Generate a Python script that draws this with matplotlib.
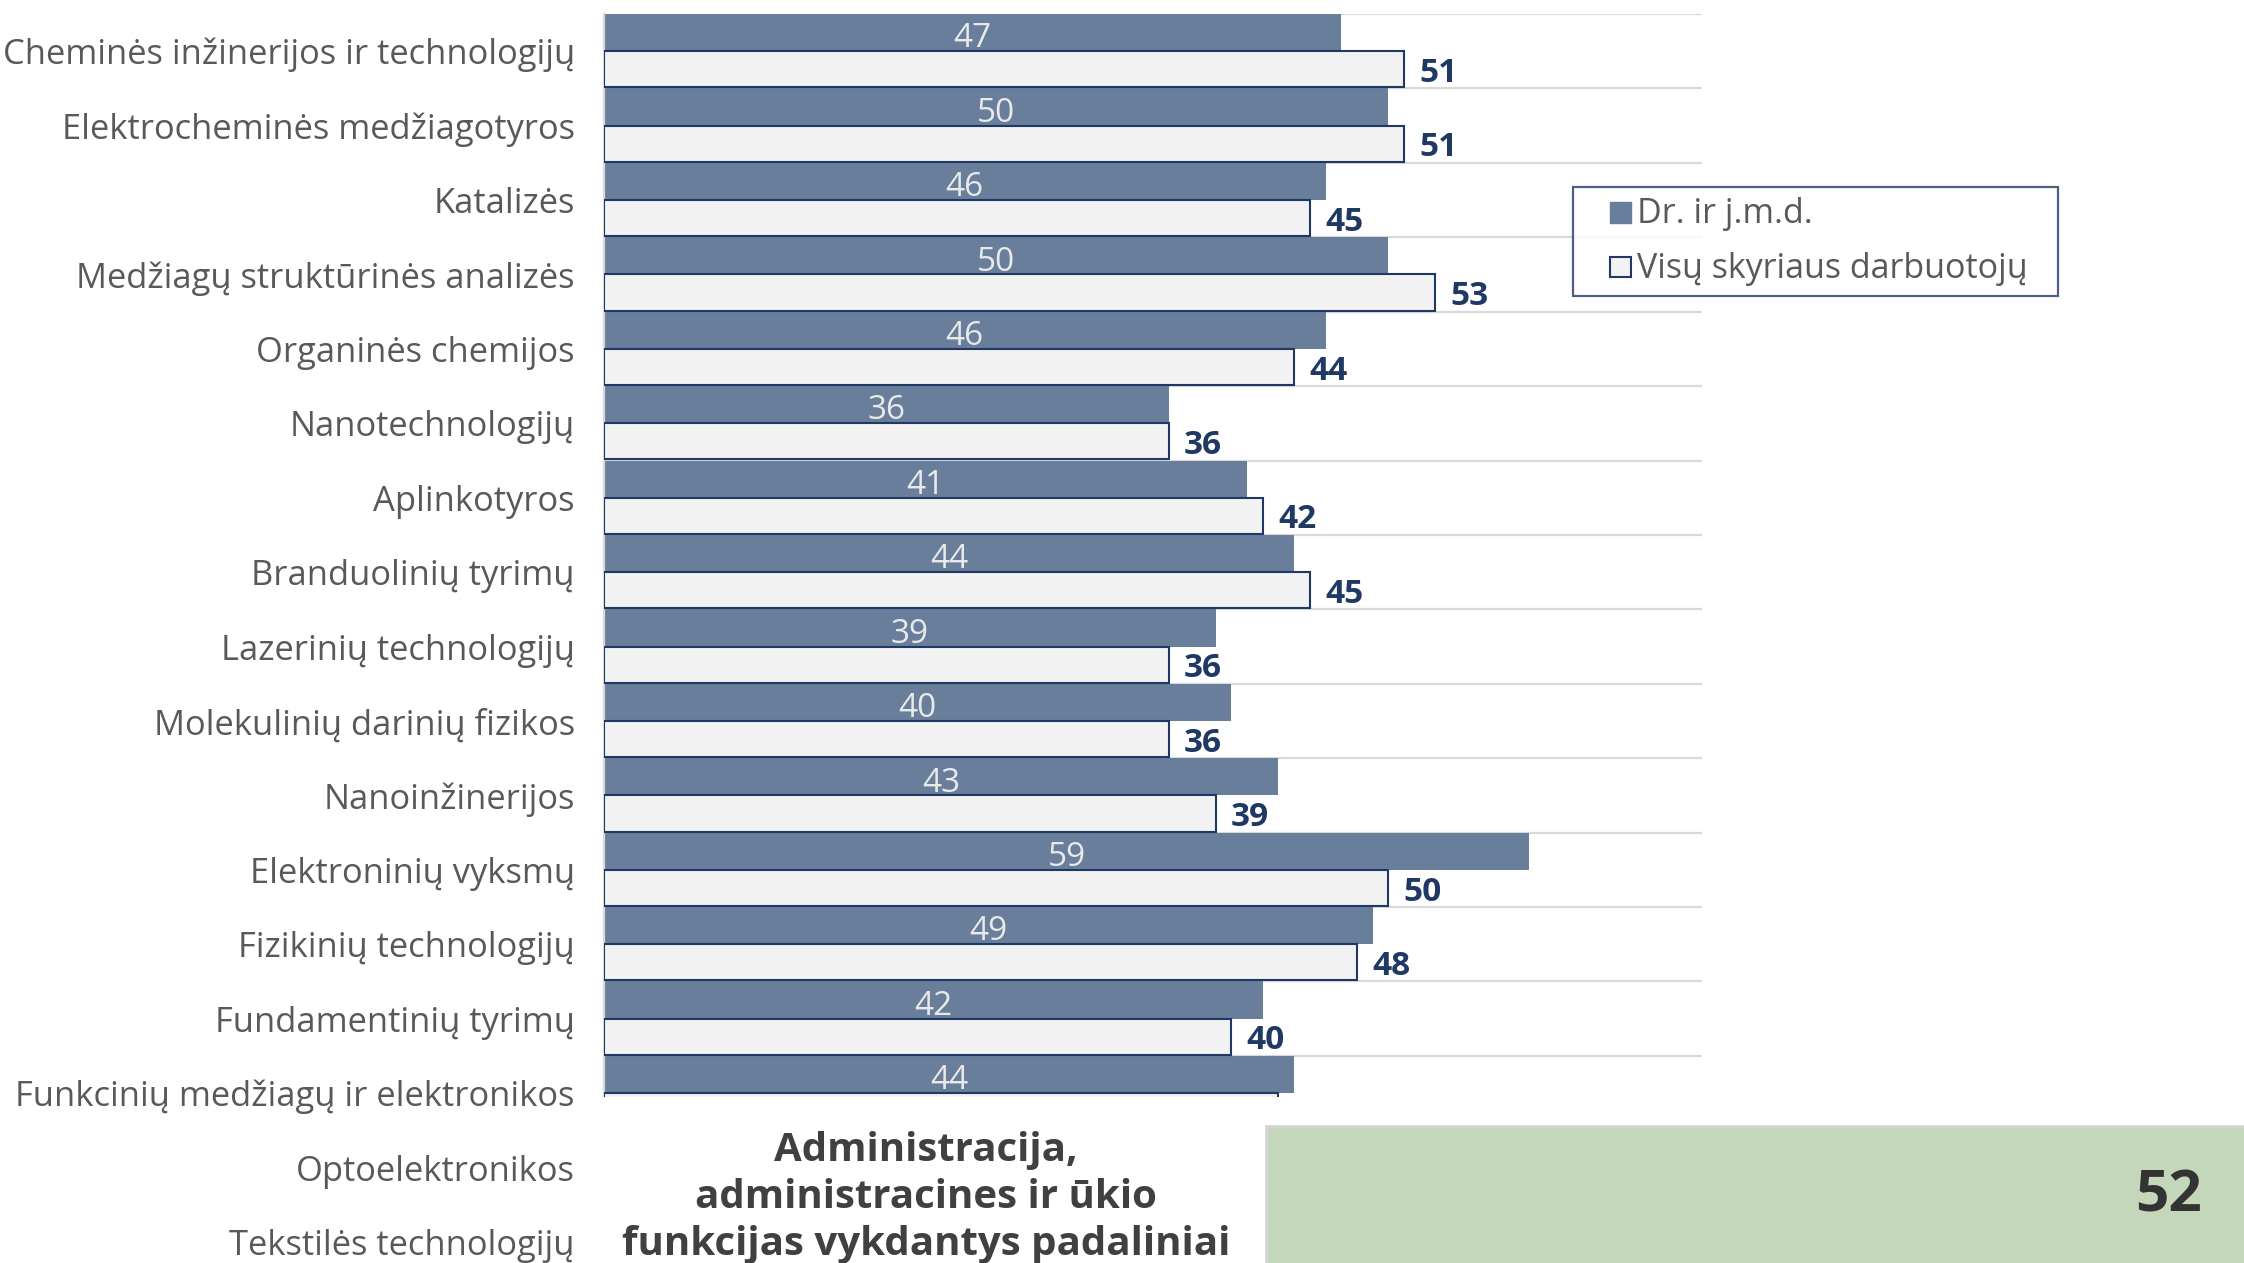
import numpy as np
import matplotlib
matplotlib.use("Agg")
import matplotlib.pyplot as plt
from matplotlib.patches import Patch, Rectangle
from matplotlib.legend_handler import HandlerPatch
from matplotlib import font_manager

# ---- data -------------------------------------------------------------
categories = [
    "Cheminės inžinerijos ir technologijų",
    "Elektrocheminės medžiagotyros",
    "Katalizės",
    "Medžiagų struktūrinės analizės",
    "Organinės chemijos",
    "Nanotechnologijų",
    "Aplinkotyros",
    "Branduolinių tyrimų",
    "Lazerinių technologijų",
    "Molekulinių darinių fizikos",
    "Nanoinžinerijos",
    "Elektroninių vyksmų",
    "Fizikinių technologijų",
    "Fundamentinių tyrimų",
    "Funkcinių medžiagų ir elektronikos",
    "Optoelektronikos",
    "Tekstilės technologijų",
]
dr_values = [47, 50, 46, 50, 46, 36, 41, 44, 39, 40, 43, 59, 49, 42, 44, np.nan, np.nan]
all_values = [51, 51, 45, 53, 44, 36, 42, 45, 36, 36, 39, 50, 48, 40, 43, np.nan, np.nan]
series_names = ["Dr. ir j.m.d.", "Visų skyriaus darbuotojų"]
admin_lines = ["Administracija,", "administracines ir ūkio", "funkcijas vykdantys padaliniai"]
admin_value = "52"

# ---- styling ------------------------------------------------------------
installed = {f.name for f in font_manager.fontManager.ttflist}
FONT = next((f for f in ["Open Sans", "Noto Sans", "Lato", "DejaVu Sans"] if f in installed), "DejaVu Sans")
plt.rcParams["font.family"] = [FONT, "DejaVu Sans"]

DARK = "#687e9b"
LIGHT = "#f2f2f2"
NAVY = "#1f3864"
GRID = "#d9d9d9"
LABEL = "#595959"

W, H = 2244, 1263
fig = plt.figure(figsize=(W / 100, H / 100), dpi=100)

def px_box(x0, y0, x1, y1):
    """Figure-fraction rectangle from pixel corners (origin top-left)."""
    return [x0 / W, 1 - y1 / H, (x1 - x0) / W, (y1 - y0) / H]

n = len(categories)
ax = fig.add_axes(px_box(604, 14, 1702, 14 + n * 74.42))
ax.set_xlim(0, 70)
ax.set_ylim(n - 0.5, -0.5)

idx = np.arange(n)
dr = np.array(dr_values, dtype=float)
al = np.array(all_values, dtype=float)

# separators between categories
ax.hlines(np.arange(n + 1) - 0.5, 0, 70, color=GRID, lw=1.6, zorder=0.5)

ax.barh(idx - 0.5, dr, height=0.5, align="edge", color=DARK, zorder=2)
ax.barh(idx, al, height=0.485, align="edge", color=LIGHT,
        edgecolor=NAVY, linewidth=1.5, zorder=3)

for i in idx:
    if not np.isnan(dr[i]):
        ax.text(dr[i] / 2, i - 0.22, f"{int(dr[i])}", ha="center", va="center_baseline",
                fontsize=24, color="#e9e9e9", zorder=4)
    if not np.isnan(al[i]):
        ax.annotate(f"{int(al[i])}", xy=(al[i], i + 0.245), xytext=(11, 0),
                    textcoords="offset points", ha="left", va="center_baseline",
                    fontsize=24, fontweight="bold", color=NAVY, zorder=4)

ax.set_yticks(idx)
ax.set_yticklabels(categories, fontsize=24.8, color=LABEL)
ax.tick_params(axis="y", length=0, pad=21)
ax.tick_params(axis="x", bottom=False, labelbottom=False)
for side in ["top", "right", "bottom"]:
    ax.spines[side].set_visible(False)
ax.spines["left"].set_color(GRID)
ax.spines["left"].set_linewidth(1.6)


class SquareHandler(HandlerPatch):
    """Legend key drawn as a small square at the right end of the key box."""
    def create_artists(self, legend, orig_handle, xdescent, ydescent,
                       width, height, fontsize, trans):
        side = 0.6 * fontsize
        p = Rectangle((width - xdescent - side, -ydescent + (height - side) / 2 - 1),
                      side, side)
        self.update_prop(p, orig_handle, legend)
        p.set_transform(trans)
        return [p]


handles = [Patch(facecolor=DARK, edgecolor=DARK),
           Patch(facecolor=LIGHT, edgecolor=NAVY, linewidth=1.5)]
leg = fig.legend(handles, series_names, loc="upper left",
                 bbox_to_anchor=(1573 / W, 1 - 187 / H), borderaxespad=0,
                 fontsize=24.5, labelcolor=LABEL, frameon=True, fancybox=False,
                 borderpad=0.3, handlelength=1.4, handleheight=0.7,
                 handletextpad=0.18, labelspacing=0.6,
                 handler_map={Patch: SquareHandler()})
frame = leg.get_frame()
frame.set_edgecolor(NAVY)
frame.set_linewidth(1.6)
frame.set_facecolor("white")
leg.set_zorder(10)

# widen the legend frame on the right to leave room after the longest entry
_plain_set_bounds = frame.set_bounds
def _set_bounds_with_margin(*args):
    x, y, w, h = args[0] if len(args) == 1 else args
    _plain_set_bounds(x, y, w + 20, h)
frame.set_bounds = _set_bounds_with_margin

# bottom panel: white strip with the administration label and its value box
fig.patches.append(Rectangle((598 / W, 0), 1 - 598 / W, 1 - 1097 / H,
                             transform=fig.transFigure, facecolor="white",
                             edgecolor="none", zorder=20))
fig.patches.append(Rectangle((1266 / W, -0.01), 1 - 1266 / W + 0.01, 1 - 1126 / H + 0.01,
                             transform=fig.transFigure, facecolor="#c4d7bb",
                             edgecolor="#d6d6d6", linewidth=2, zorder=21))
for k, line in enumerate(admin_lines):
    fig.text(926 / W, 1 - (1151 + 47 * k) / H, line, ha="center", va="center",
             fontsize=29, fontweight="bold", color="#404040", zorder=22)
fig.text(2168 / W, 1 - 1196 / H, admin_value, ha="center", va="center",
         fontsize=42, fontweight="bold", color="#333333", zorder=22)

fig.savefig("out.png", dpi=100)
